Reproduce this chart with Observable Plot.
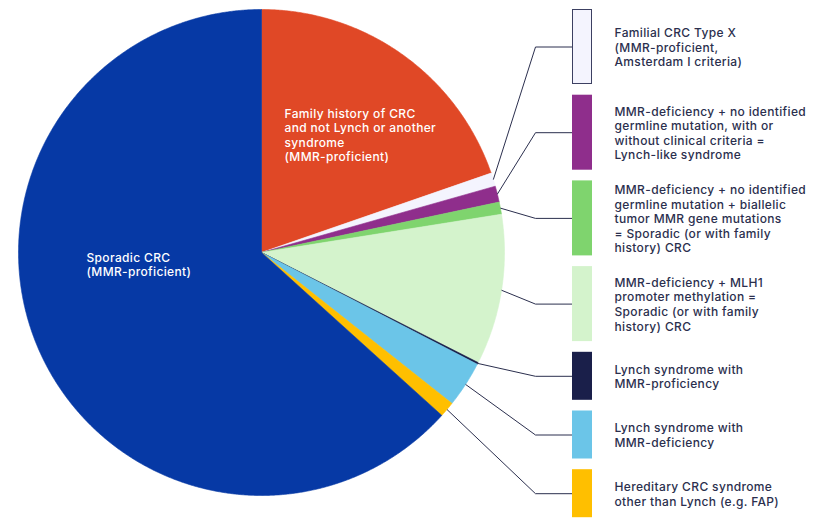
<!DOCTYPE html>
<html><head><meta charset="utf-8">
<script src="https://cdn.jsdelivr.net/npm/d3@7"></script>
<script src="https://cdn.jsdelivr.net/npm/@observablehq/plot@0.6"></script>
<style>html,body{margin:0;padding:0;background:#fff}</style>
</head><body><div id="chart"></div>
<script>
// ---- data (clockwise from 12 o'clock) ----
const categories = [
  "Family history of CRC\nand not Lynch or another\nsyndrome\n(MMR-proficient)",
  "Familial CRC Type X\n(MMR-proficient,\nAmsterdam I criteria)",
  "MMR-deficiency + no identified\ngermline mutation, with or\nwithout clinical criteria =\nLynch-like syndrome",
  "MMR-deficiency + no identified\ngermline mutation + biallelic\ntumor MMR gene mutations\n= Sporadic (or with family\nhistory) CRC",
  "MMR-deficiency + MLH1\npromoter methylation =\nSporadic (or with family\nhistory) CRC",
  "Lynch syndrome with\nMMR-proficiency",
  "Lynch syndrome with\nMMR-deficiency",
  "Hereditary CRC syndrome\nother than Lynch (e.g. FAP)",
  "Sporadic CRC\n(MMR-proficient)"
];
const shares = [19.7, 0.9, 1.07, 0.81, 10.0, 0.12, 3.06, 1.03, 63.3];
const colors = ["#E04826", "#F4F4FE", "#8F2E8C", "#7FD46E", "#D4F3CC", "#1A1F4A", "#6BC5E8", "#FFBF00", "#0639A5"];
const labelInside = [true, false, false, false, false, false, false, false, true];

// ---- layout ----
const W = 831, H = 519;
const cx = 261, cy = 252, R = 243;
const legX = 572, swW = 20, textX = 614, elbowX = 535;
const legTop = 9, legGap = 10.7, tallH = 75, shortH = 48;
const insidePos = {0: [284, 134.5], 8: [86, 264]};
const ink = "#2B2F4E";

const rows = categories.map((label, i) => ({i, label, value: shares[i], color: colors[i], inside: labelInside[i]}));
const arcs = d3.pie().sort(null).value(d => d.value)(rows);

// slice polygons
const polys = [];
for (const a of arcs) {
  const n = Math.max(2, Math.ceil((a.endAngle - a.startAngle) / 0.005));
  polys.push({k: a.data.i, color: a.data.color, x: cx, y: cy});
  for (let j = 0; j <= n; j++) {
    const t = a.startAngle + (a.endAngle - a.startAngle) * j / n;
    polys.push({k: a.data.i, color: a.data.color, x: cx + R * Math.sin(t), y: cy - R * Math.cos(t)});
  }
  polys.push({k: a.data.i, color: a.data.color, x: cx, y: cy});
}

// legend items
const legend = [];
let yy = legTop;
for (const a of arcs) {
  const d = a.data;
  if (d.inside) continue;
  const nLines = d.label.split("\n").length;
  const h = nLines >= 3 ? tallH : shortH;
  const mid = (a.startAngle + a.endAngle) / 2;
  legend.push({...d, y1: yy, y2: yy + h, ym: yy + h / 2,
    ax: cx + R * Math.sin(mid), ay: cy - R * Math.cos(mid)});
  yy += h + legGap;
}
const leaders = legend.flatMap(d => [
  {k: d.i, x: d.ax, y: d.ay},
  {k: d.i, x: elbowX, y: d.ym},
  {k: d.i, x: legX, y: d.ym}
]);
const insideLabels = rows.filter(d => d.inside).map(d => ({...d, x: insidePos[d.i][0], y: insidePos[d.i][1]}));

const chart = Plot.plot({
  width: W, height: H, margin: 0,
  x: {domain: [0, W], range: [0, W], axis: null},
  y: {domain: [0, H], range: [0, H], axis: null},
  style: {fontFamily: "Inter, 'Noto Sans', sans-serif", background: "#fff", letterSpacing: "0.35px"},
  marks: [
    Plot.line(polys, {x: "x", y: "y", z: "k", fill: "color", stroke: "color", strokeWidth: 0.6, curve: "linear"}),
    Plot.line(leaders, {x: "x", y: "y", z: "k", stroke: ink, strokeWidth: 1, curve: "linear", strokeLinecap: "butt", strokeLinejoin: "miter"}),
    Plot.rect(legend, {x1: () => legX, x2: () => legX + swW, y1: "y1", y2: "y2", fill: "color"}),
    Plot.rect(legend.filter(d => d.i === 1), {x1: () => legX + 0.5, x2: () => legX + swW - 0.5, y1: d => d.y1 + 0.5, y2: d => d.y2 - 0.5, fill: "none", stroke: "#3C4062", strokeWidth: 1}),
    Plot.text(legend, {x: () => textX, y: "ym", text: "label", textAnchor: "start", lineAnchor: "middle", lineHeight: 1.21, fontSize: 12, fontWeight: 500, fill: ink}),
    Plot.text(insideLabels, {x: "x", y: "y", text: "label", textAnchor: "start", lineAnchor: "middle", lineHeight: 1.21, fontSize: 12, fontWeight: 500, fill: "#fff"})
  ]
});
document.getElementById("chart").append(chart);
</script>
</body></html>
